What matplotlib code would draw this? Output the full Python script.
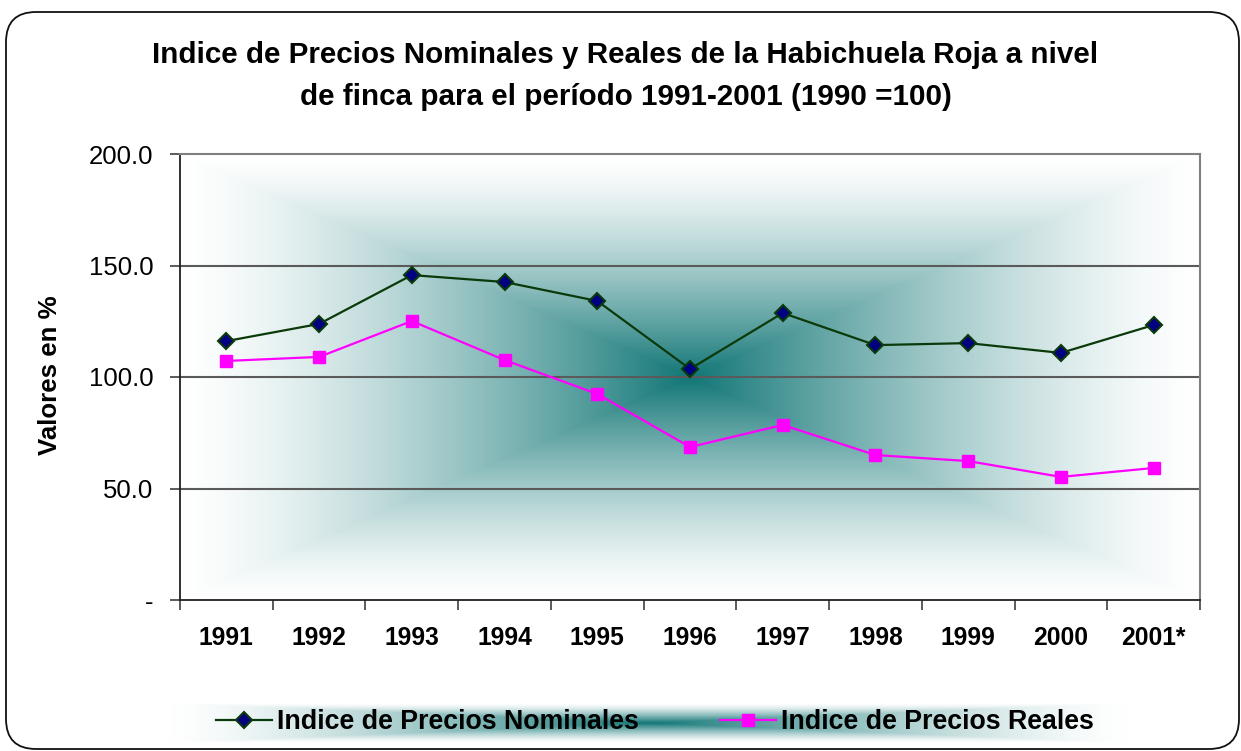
import matplotlib

matplotlib.use("Agg")
import matplotlib.pyplot as plt
import numpy as np
from matplotlib.lines import Line2D
from matplotlib.patches import FancyBboxPatch

YEARS = ["1991", "1992", "1993", "1994", "1995", "1996",
         "1997", "1998", "1999", "2000", "2001*"]
NOMINAL = [116.1, 123.8, 145.7, 142.6, 134.1, 103.6,
           128.7, 114.3, 115.2, 110.8, 123.3]
REAL = [107.2, 109.0, 125.1, 107.6, 92.4, 68.6,
        78.5, 65.0, 62.3, 55.2, 59.2]
Y_TICKS = [0, 50, 100, 150, 200]
Y_TICK_LABELS = ["-", "50.0", "100.0", "150.0", "200.0"]
SERIES_LABELS = ["Indice de Precios Nominales", "Indice de Precios Reales"]

W, H = 1241, 751
TEAL = np.array([18, 118, 118]) / 255.0
FONT = "Liberation Sans"


def from_center_gradient(nx, ny):
    # Excel-style "from center" rectangular fill: teal in the middle, white at the rim
    xs = np.linspace(-1, 1, nx)
    ys = np.linspace(-1, 1, ny)
    gx, gy = np.meshgrid(xs, ys)
    t = np.maximum(np.abs(gx), np.abs(gy))
    f = (1 - (1 - t) ** 1.4)[..., None]
    return TEAL[None, None, :] * (1 - f) + f


def main():
    plt.rcParams["font.family"] = FONT
    fig = plt.figure(figsize=(W / 100, H / 100), dpi=100)

    ax = fig.add_axes([180 / W, 1 - 600 / H, 1020 / W, 446 / H])
    x = np.arange(len(YEARS))
    ax.set_xlim(-0.5, len(YEARS) - 0.5)
    ax.set_ylim(0, 200)
    ax.imshow(from_center_gradient(600, 400), extent=(-0.5, len(YEARS) - 0.5, 0, 200),
              aspect="auto", zorder=0, interpolation="bilinear")

    for yv in Y_TICKS[1:-1]:
        ax.axhline(yv, color="#5a5a5a", lw=1.5, zorder=1)

    ax.plot(x, NOMINAL, color="#0a3a0a", lw=1.6, marker="D", markersize=8,
            markerfacecolor="#000080", markeredgecolor="#0a3a0a", markeredgewidth=1.5, zorder=3)
    ax.plot(x, REAL, color="#ff00ff", lw=1.6, marker="s", markersize=9,
            markerfacecolor="#ff00ff", markeredgecolor="#ff00ff", zorder=3)

    for side in ("top", "right"):
        ax.spines[side].set_color("#808080")
        ax.spines[side].set_linewidth(1.5)
    for side in ("left", "bottom"):
        ax.spines[side].set_color("#202020")
        ax.spines[side].set_linewidth(1.3)

    ax.set_yticks(Y_TICKS)
    ax.set_yticklabels(Y_TICK_LABELS, fontsize=18.5)
    ax.tick_params(axis="y", direction="out", length=7, width=1.2, pad=12, color="#404040")
    ax.set_xticks(x)
    ax.set_xticklabels(YEARS, fontsize=17.7, fontweight="bold")
    ax.tick_params(axis="x", which="major", length=0, pad=19)
    ax.set_xticks(np.arange(-0.5, len(YEARS)), minor=True)
    ax.tick_params(axis="x", which="minor", direction="out", length=7, width=1.2, color="#404040")

    fig.text(625 / W, 1 - 55 / H, "Indice de Precios Nominales y Reales de la Habichuela Roja a nivel",
             ha="center", va="center", fontsize=21.3, fontweight="bold")
    fig.text(626 / W, 1 - 97 / H, "de finca para el período 1991-2001 (1990 =100)",
             ha="center", va="center", fontsize=21.3, fontweight="bold")
    fig.text(50 / W, 1 - 375 / H, "Valores en %", rotation=90, ha="center", va="center",
             fontsize=18.6, fontweight="bold")

    lax = fig.add_axes([170 / W, 1 - 743 / H, 957 / W, 40 / H])
    lax.imshow(from_center_gradient(600, 60), aspect="auto", interpolation="bilinear")
    lax.axis("off")

    handles = [
        Line2D([], [], color="#0a3a0a", lw=1.6, marker="D", markersize=8,
               markerfacecolor="#000080", markeredgecolor="#0a3a0a", markeredgewidth=1.5),
        Line2D([], [], color="#ff00ff", lw=1.6, marker="s", markersize=9,
               markerfacecolor="#ff00ff", markeredgecolor="#ff00ff"),
    ]
    fig.legend(handles, SERIES_LABELS, loc="center", bbox_to_anchor=(655 / W, 1 - 722 / H),
               ncol=2, frameon=False, handlelength=2.1, handletextpad=0.2, columnspacing=3.0,
               prop={"family": FONT, "weight": "bold", "size": 19.3})

    border = FancyBboxPatch((0.06, 0.02), 12.33, 7.37,
                            boxstyle="round,pad=0,rounding_size=0.3",
                            transform=fig.dpi_scale_trans, facecolor="none",
                            edgecolor="#111111", lw=1.3)
    fig.add_artist(border)

    fig.savefig("out.png", dpi=100)
    plt.close(fig)


if __name__ == "__main__":
    main()
